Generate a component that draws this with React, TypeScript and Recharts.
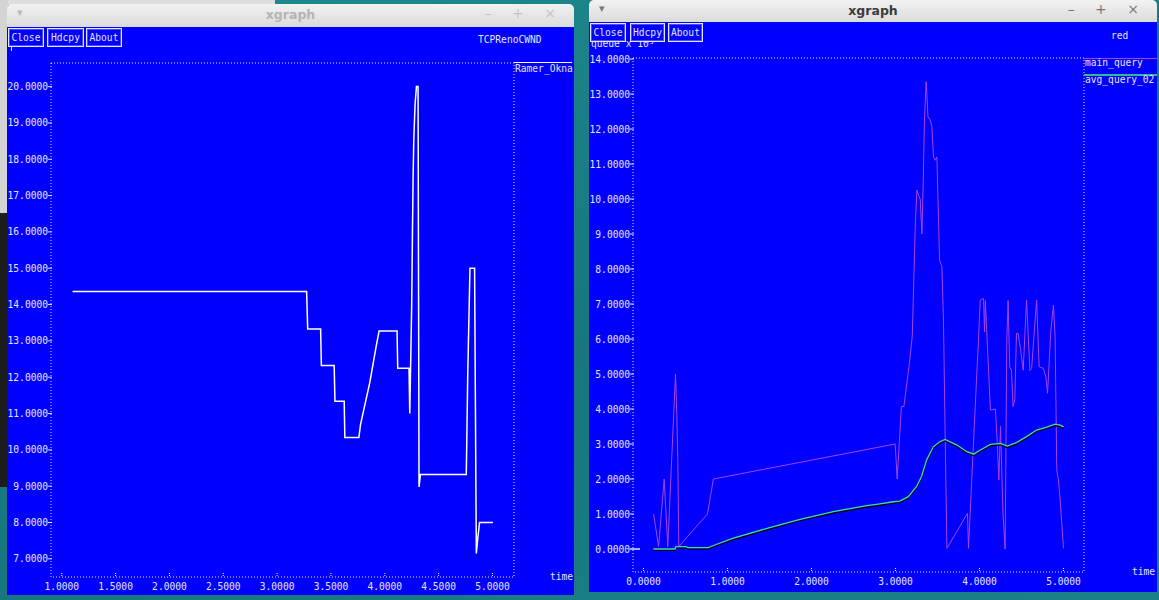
import { LineChart, Line, XAxis, YAxis, ReferenceArea } from 'recharts'

// TCPRenoCWND window
const cwndTime = [1.1, 3.274, 3.284, 3.404, 3.411, 3.53, 3.537, 3.623, 3.629, 3.759, 3.775, 3.861, 3.917, 3.947, 4.114, 4.12, 4.225, 4.232, 4.25, 4.257, 4.263, 4.269, 4.281, 4.294, 4.309, 4.318, 4.331, 4.757, 4.77, 4.791, 4.834, 4.85, 4.865, 4.88, 5.004]
const cwndValue = [14.36, 14.36, 13.33, 13.33, 12.32, 12.32, 11.34, 11.34, 10.34, 10.34, 10.7, 11.86, 12.8, 13.27, 13.27, 12.25, 12.25, 11.0, 14.0, 16.0, 17.5, 18.5, 19.5, 20.0, 20.0, 8.98, 9.32, 9.32, 12.0, 15.0, 15.0, 7.15, 7.6, 8.0, 8.0]
const cwndXTicks = [1, 1.5, 2, 2.5, 3, 3.5, 4, 4.5, 5]
const cwndYTicks = [7, 8, 9, 10, 11, 12, 13, 14, 15, 16, 17, 18, 19, 20]

// red queue window
const queueTime = [0.12, 0.18, 0.246, 0.289, 0.381, 0.393, 0.409, 0.42, 0.762, 0.832, 2.996, 3.02, 3.07, 3.1, 3.17, 3.2, 3.235, 3.255, 3.276, 3.294, 3.314, 3.33, 3.345, 3.365, 3.377, 3.386, 3.413, 3.433, 3.452, 3.473, 3.493, 3.524, 3.552, 3.571, 3.592, 3.612, 3.857, 3.869, 3.969, 3.988, 4.008, 4.048, 4.06, 4.07, 4.09, 4.13, 4.19, 4.21, 4.23, 4.25, 4.28, 4.305, 4.325, 4.34, 4.36, 4.38, 4.4, 4.42, 4.44, 4.46, 4.49, 4.52, 4.56, 4.6, 4.62, 4.68, 4.71, 4.76, 4.79, 4.81, 4.85, 4.88, 4.9, 4.92, 4.94, 4.96, 5.0]
const queueValue = [1.0, 0.07, 2.0, 0.07, 5.0, 4.16, 2.54, 0.07, 1.0, 2.0, 3.0, 2.0, 4.07, 4.07, 5.4, 6.1, 9.2, 10.26, 10.1, 10.0, 9.0, 10.5, 12.26, 13.35, 12.83, 12.35, 12.26, 12.07, 11.2, 11.11, 11.2, 8.26, 8.07, 6.54, 3.1, 0.02, 1.02, 0.02, 5.07, 5.97, 7.11, 7.16, 6.2, 7.1, 6.0, 3.97, 4.0, 3.11, 1.97, 3.5, 1.0, 0.0, 5.97, 7.1, 5.2, 5.11, 4.07, 4.26, 6.16, 6.16, 5.69, 5.11, 7.11, 5.1, 5.15, 7.11, 5.21, 5.16, 4.92, 4.45, 6.26, 6.97, 6.07, 2.26, 1.97, 1.4, 0.02]
const avgTime = [0.119, 0.376, 0.386, 0.507, 0.527, 0.773, 0.832, 1.07, 1.47, 1.865, 2.26, 2.66, 2.815, 2.976, 3.05, 3.15, 3.25, 3.31, 3.37, 3.45, 3.53, 3.59, 3.73, 3.85, 3.93, 4.01, 4.13, 4.25, 4.33, 4.44, 4.56, 4.68, 4.8, 4.9, 4.96, 5.0]
const avgValue = [0, 0, 0.07, 0.07, 0.04, 0.04, 0.1, 0.31, 0.59, 0.85, 1.07, 1.24, 1.29, 1.35, 1.37, 1.49, 1.78, 2.07, 2.54, 2.92, 3.07, 3.13, 2.97, 2.78, 2.71, 2.83, 2.99, 3.02, 2.94, 3.04, 3.21, 3.4, 3.48, 3.57, 3.54, 3.49]
const queueXTicks = [0, 1, 2, 3, 4, 5]
const queueYTicks = [0, 1, 2, 3, 4, 5, 6, 7, 8, 9, 10, 11, 12, 13, 14]

const cwndData = cwndTime.map((t, i) => ({ t, v: cwndValue[i] }))
const queueData = queueTime.map((t, i) => ({ t, v: queueValue[i] }))
const avgData = avgTime.map((t, i) => ({ t, v: avgValue[i] }))

const BLUE = '#0000fc'
const FG = '#e4e4ff'
const MAGENTA = '#a444e6'
const MONO = '"DejaVu Sans Mono", "Liberation Mono", monospace'
const FS = 9.6

function LeftTick(props: any) {
  const { x, y, payload } = props
  const zero = payload.value === 0
  return (
    <g>
      <line x1={x - 3} x2={zero ? x + 7 : x + 1} y1={y} y2={y} stroke={FG} strokeWidth={zero ? 1.5 : 1} />
      <text x={x - 3} y={y} dy={3.5} textAnchor="end" fill={FG} fontSize={FS} fontFamily={MONO}>
        {payload.value.toFixed(4)}
      </text>
    </g>
  )
}

function RightTick(props: any) {
  const { x, y } = props
  return <line x1={x - 5} x2={x} y1={y} y2={y} stroke={FG} strokeDasharray="1 1" />
}

function BottomTick(props: any) {
  const { x, y, payload } = props
  return (
    <g>
      <line x1={x} x2={x} y1={y - 4} y2={y} stroke={FG} strokeDasharray="1 1" />
      <text x={x} y={y + 9} dy={3.5} textAnchor="middle" fill={FG} fontSize={FS} fontFamily={MONO}>
        {payload.value.toFixed(4)}
      </text>
    </g>
  )
}

function TopTick(props: any) {
  const { x, y } = props
  return <line x1={x} x2={x} y1={y} y2={y + 4} stroke={FG} strokeDasharray="1 1" />
}

function Txt({ x, y, children, size = FS, color = FG }: any) {
  return (
    <div style={{ position: 'absolute', left: x, top: y - 6, lineHeight: '12px', fontSize: size, fontFamily: MONO, color, whiteSpace: 'pre' }}>
      {children}
    </div>
  )
}

function Button({ x, y, w, h, label }: any) {
  return (
    <div
      style={{
        position: 'absolute', left: x, top: y, width: w - 2, height: h - 2,
        border: `1px solid ${FG}`, background: BLUE, color: FG, fontFamily: MONO, fontSize: FS,
        lineHeight: `${h - 2}px`, textAlign: 'center', boxShadow: 'inset 0 0 0 1px #4a4aff',
      }}
    >
      {label}
    </div>
  )
}

function TitleBar({ x, y, w, active }: any) {
  const c = active ? '#3c3c3c' : '#b4b4b4'
  return (
    <div
      style={{
        position: 'absolute', left: x, top: y, width: w, height: 23,
        background: 'linear-gradient(#f2f2f2, #dadada)', borderRadius: '5px 5px 0 0',
        fontFamily: '"DejaVu Sans", sans-serif',
      }}
    >
      <div style={{ position: 'absolute', left: 0, width: w, top: 3, textAlign: 'center', fontSize: 12.5, fontWeight: 'bold', color: c }}>xgraph</div>
      <div style={{ position: 'absolute', left: 10, top: 2, fontSize: 11, color: active ? '#777' : '#bbb' }}>▾</div>
      <div style={{ position: 'absolute', right: 10, top: 1, fontSize: 14, color: active ? '#777' : '#c4c4c4', letterSpacing: 8 }}>– + ×</div>
    </div>
  )
}

export default function App() {
  return (
    <div
      style={{
        position: 'fixed', left: 0, top: 0, width: 1159, height: 600, overflow: 'hidden',
        background: 'linear-gradient(160deg, #1f8d90 0%, #17767e 55%, #1b8288 100%)',
      }}
    >
      <style>{`.shadow .recharts-line-curve { transform: translate(0px, 1.5px); }`}</style>
      {/* desktop pieces behind the windows */}
      <div style={{ position: 'absolute', left: 0, top: 0, width: 275, height: 5, background: '#dedede' }} />
      <div style={{ position: 'absolute', left: 0, top: 0, width: 8, height: 213, background: '#d4d4d4' }} />
      <div style={{ position: 'absolute', left: 0, top: 213, width: 8, height: 274, background: '#1c1c1c' }} />

      {/* left window */}
      <TitleBar x={7} y={4} w={567} active={false} />
      <div style={{ position: 'absolute', left: 7, top: 27, width: 567, height: 568, background: BLUE }}>
        <LineChart width={567} height={568} margin={{ top: 36, right: 60, bottom: 0, left: 0 }} style={{ position: 'absolute', left: 0, top: 0 }}>
          <XAxis xAxisId={0} dataKey="t" type="number" domain={[0.9, 5.2]} allowDataOverflow ticks={cwndXTicks} interval={0}
            height={18} tickSize={0} tickMargin={0} axisLine={false} tickLine={false} tick={BottomTick} />
          <XAxis xAxisId="top" orientation="top" type="number" domain={[0.9, 5.2]} allowDataOverflow ticks={cwndXTicks} interval={0}
            height={0} tickSize={0} tickMargin={0} axisLine={false} tickLine={false} tick={TopTick} />
          <YAxis yAxisId={0} type="number" domain={[6.5, 20.65]} allowDataOverflow ticks={cwndYTicks} interval={0}
            width={44} tickSize={0} tickMargin={0} axisLine={false} tickLine={false} tick={LeftTick} />
          <YAxis yAxisId="r" orientation="right" type="number" domain={[6.5, 20.65]} allowDataOverflow ticks={cwndYTicks} interval={0}
            width={0} tickSize={0} tickMargin={0} axisLine={false} tickLine={false} tick={RightTick} />
          <ReferenceArea x1={0.9} x2={5.2} y1={6.5} y2={20.65} fill="none" stroke={FG} strokeDasharray="1 2" strokeOpacity={1} />
          <Line data={cwndData} dataKey="v" type="linear" stroke="#ffffff" strokeWidth={1.5} dot={false} isAnimationActive={false} />
        </LineChart>
        <Txt x={471} y={13}>TCPRenoCWND</Txt>
        <div style={{ position: 'absolute', left: 4, top: 20, width: 1, height: 4, background: FG }} />
        <div style={{ position: 'absolute', left: 507, top: 35, width: 58, height: 1, background: '#ffffff' }} />
        <Txt x={508} y={42}>Ramer_Okna</Txt>
        <Txt x={543} y={550}>time</Txt>
        <Button x={1} y={1} w={36} h={19} label="Close" />
        <Button x={40} y={1} w={37} h={19} label="Hdcpy" />
        <Button x={79} y={1} w={36} h={19} label="About" />
      </div>

      {/* right window */}
      <TitleBar x={589} y={0} w={568} active={true} />
      <div style={{ position: 'absolute', left: 589, top: 22, width: 568, height: 570, background: BLUE }}>
        <LineChart width={568} height={570} margin={{ top: 36, right: 73, bottom: 0, left: 0 }} style={{ position: 'absolute', left: 0, top: 0 }}>
          <XAxis xAxisId={0} dataKey="t" type="number" domain={[-0.125, 5.244]} allowDataOverflow ticks={queueXTicks} interval={0}
            height={20} tickSize={0} tickMargin={0} axisLine={false} tickLine={false} tick={BottomTick} />
          <XAxis xAxisId="top" orientation="top" type="number" domain={[-0.125, 5.244]} allowDataOverflow ticks={queueXTicks} interval={0}
            height={0} tickSize={0} tickMargin={0} axisLine={false} tickLine={false} tick={TopTick} />
          <YAxis yAxisId={0} type="number" domain={[-0.657, 14.03]} allowDataOverflow ticks={queueYTicks} interval={0}
            width={44} tickSize={0} tickMargin={0} axisLine={false} tickLine={false} tick={LeftTick} />
          <YAxis yAxisId="r" orientation="right" type="number" domain={[-0.657, 14.03]} allowDataOverflow ticks={queueYTicks} interval={0}
            width={0} tickSize={0} tickMargin={0} axisLine={false} tickLine={false} tick={RightTick} />
          <ReferenceArea x1={-0.125} x2={5.244} y1={-0.657} y2={14.03} fill="none" stroke={FG} strokeDasharray="1 2" strokeOpacity={1} />
          <Line data={queueData} dataKey="v" type="linear" stroke={MAGENTA} strokeWidth={1} dot={false} isAnimationActive={false} />
          <Line className="shadow" data={avgData} dataKey="v" type="linear" stroke="#000000" strokeWidth={1.2} dot={false} isAnimationActive={false} />
          <Line data={avgData} dataKey="v" type="linear" stroke="#3ce090" strokeWidth={1.3} dot={false} isAnimationActive={false} />
        </LineChart>
        <Txt x={2} y={22}>queue x 10³</Txt>
        <Txt x={522} y={14}>red</Txt>
        <div style={{ position: 'absolute', left: 495, top: 36, width: 73, height: 1, background: MAGENTA }} />
        <Txt x={496} y={41}>main_query</Txt>
        <div style={{ position: 'absolute', left: 495, top: 52, width: 73, height: 2, background: '#30b8a0' }} />
        <Txt x={496} y={58}>avg_query_02</Txt>
        <Txt x={543} y={550}>time</Txt>
        <Button x={1} y={1} w={36} h={19} label="Close" />
        <Button x={41} y={1} w={35} h={19} label="Hdcpy" />
        <Button x={79} y={1} w={35} h={19} label="About" />
      </div>
    </div>
  )
}
